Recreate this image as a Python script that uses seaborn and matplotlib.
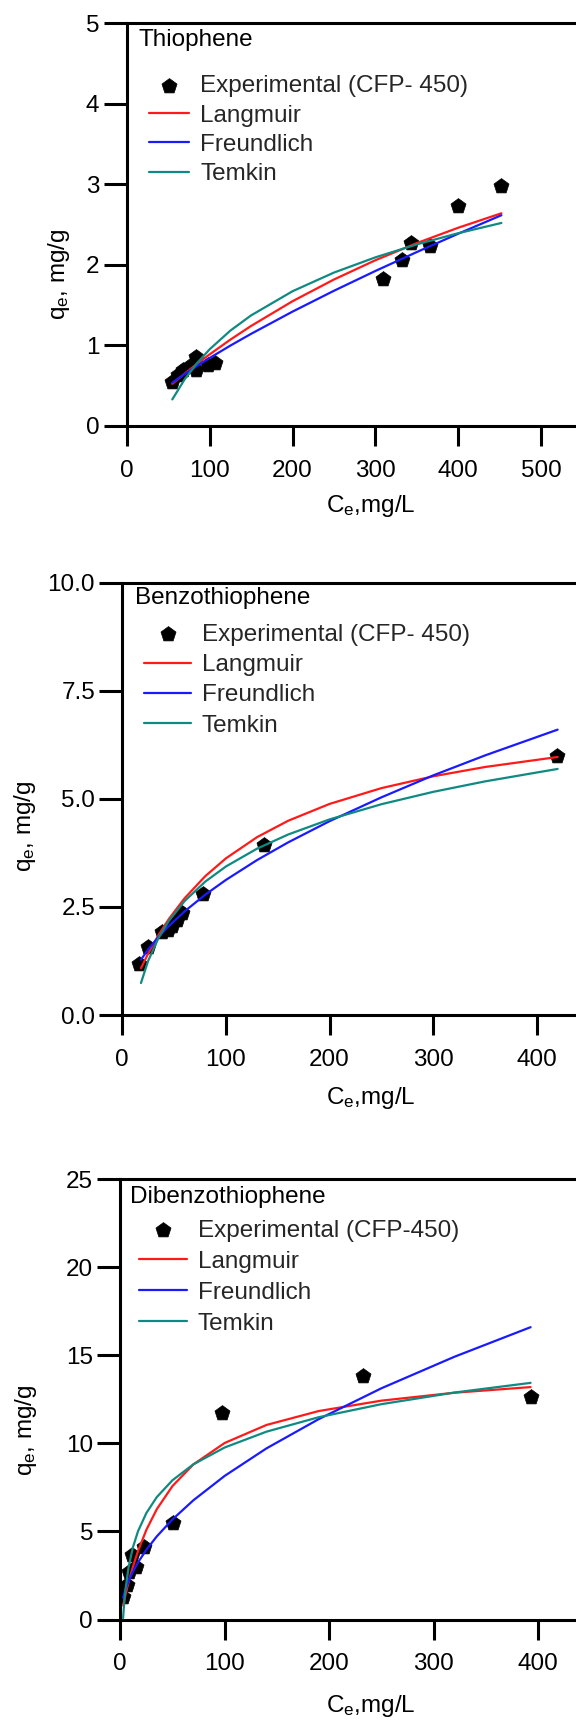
import matplotlib
matplotlib.use("Agg")
import matplotlib.pyplot as plt
from matplotlib.ticker import FormatStrFormatter
import seaborn as sns

# ---------------- Thiophene ----------------
th_ce = [55, 62, 68, 76, 84, 83, 98, 106, 309, 332, 343, 366, 400, 451]
th_qe = [0.55, 0.63, 0.70, 0.74, 0.70, 0.86, 0.76, 0.78, 1.83, 2.06, 2.27, 2.24, 2.73, 2.98]
th_fit_ce = [55, 70, 85, 100, 125, 150, 200, 250, 300, 350, 400, 452]
th_langmuir = [0.524, 0.651, 0.773, 0.889, 1.072, 1.242, 1.549, 1.819, 2.058, 2.271, 2.462, 2.641]
th_freundlich = [0.539, 0.646, 0.747, 0.844, 0.998, 1.144, 1.420, 1.679, 1.925, 2.160, 2.388, 2.617]
th_temkin = [0.330, 0.581, 0.782, 0.952, 1.184, 1.373, 1.673, 1.905, 2.094, 2.255, 2.394, 2.521]

# ---------------- Benzothiophene ----------------
bt_ce = [16, 25, 38, 44, 48, 53, 58, 78, 137, 419]
bt_qe = [1.18, 1.58, 1.92, 1.97, 2.05, 2.20, 2.35, 2.80, 3.93, 6.00]
bt_fit_ce = [18, 25, 35, 45, 60, 80, 100, 130, 160, 200, 250, 300, 350, 420]
bt_langmuir = [1.082, 1.423, 1.852, 2.224, 2.697, 3.211, 3.624, 4.114, 4.493, 4.883, 5.248, 5.522, 5.737, 5.968]
bt_freundlich = [1.279, 1.518, 1.809, 2.062, 2.395, 2.783, 3.125, 3.584, 3.993, 4.484, 5.035, 5.543, 6.005, 6.601]
bt_temkin = [0.740, 1.256, 1.785, 2.180, 2.633, 3.085, 3.436, 3.848, 4.175, 4.525, 4.876, 5.162, 5.404, 5.692]

# ---------------- Dibenzothiophene ----------------
dbt_ce = [3, 6, 8, 11, 15, 23, 50, 97, 232, 393]
dbt_qe = [1.30, 1.95, 2.70, 3.66, 3.00, 4.10, 5.50, 11.70, 13.80, 12.60]
dbt_fit_ce = [2.7, 3, 4, 5, 8, 12, 17, 25, 35, 50, 70, 100, 140, 190, 250, 320, 393]
dbt_langmuir = [0.794, 0.877, 1.146, 1.405, 2.127, 2.977, 3.891, 5.092, 6.266, 7.575, 8.802,
                10.02, 11.04, 11.83, 12.42, 12.87, 13.19]
dbt_freundlich = [1.245, 1.315, 1.528, 1.716, 2.190, 2.705, 3.241, 3.962, 4.720, 5.680, 6.766,
                  8.151, 9.711, 11.37, 13.12, 14.91, 16.59]
dbt_temkin = [0.08, 0.365, 1.136, 1.734, 2.994, 4.081, 5.014, 6.047, 6.950, 7.905, 8.807,
              9.763, 10.66, 11.48, 12.22, 12.88, 13.43]

panel_titles = ["Thiophene", "Benzothiophene", "Dibenzothiophene"]
exp_labels = ["Experimental (CFP- 450)", "Experimental (CFP- 450)", "Experimental (CFP-450)"]
model_names = ["Langmuir", "Freundlich", "Temkin"]
model_colors = ["#ff1a1a", "#1a1aff", "#0f8a82"]

sns.set_theme(style="ticks")
plt.rcParams["font.family"] = ["Liberation Sans", "DejaVu Sans"]
plt.rcParams["mathtext.default"] = "regular"

W, H = 576, 1720
fig = plt.figure(figsize=(W / 100, H / 100), dpi=100)
fig.patch.set_facecolor("white")

# axes frames in pixel units: left, top, bottom (right edge is the figure edge)
frames = [(126.7, 23.3, 426.0), (122.3, 582.7, 1015.0), (120.3, 1179.0, 1619.5)]
xscale = [0.829, 1.0365, 1.044]          # pixels per data unit along x
ylims = [5, 10, 25]
yticks = [[0, 1, 2, 3, 4, 5], [0, 2.5, 5.0, 7.5, 10.0], [0, 5, 10, 15, 20, 25]]
xticks = [[0, 100, 200, 300, 400, 500], [0, 100, 200, 300, 400], [0, 100, 200, 300, 400]]
title_pos = [(0.027, 0.9424), (0.029, 0.9507), (0.022, 0.9446)]
legend_pos = [(0.049, 0.871), (0.048, 0.905), (0.041, 0.908)]
legend_handlelen = [1.66, 1.93, 1.96]
legend_spacing = [0.30, 0.34, 0.37]
ylabel_pos = [(-0.151, 0.377), (-0.2145, 0.437), (-0.207, 0.430)]
xlabel_pos = [(0.5437, -0.166), (0.548, -0.162), (0.550, -0.166)]

datasets = [
    (th_ce, th_qe, th_fit_ce, [th_langmuir, th_freundlich, th_temkin]),
    (bt_ce, bt_qe, bt_fit_ce, [bt_langmuir, bt_freundlich, bt_temkin]),
    (dbt_ce, dbt_qe, dbt_fit_ce, [dbt_langmuir, dbt_freundlich, dbt_temkin]),
]

FS = 17.5
for i, (ce, qe, fit_ce, fits) in enumerate(datasets):
    left, top, bottom = frames[i]
    ax = fig.add_axes([left / W, 1 - bottom / H, (W - left) / W, (bottom - top) / H])
    ax.set_facecolor("white")

    sns.scatterplot(x=ce, y=qe, ax=ax, marker="p", s=130, color="black",
                    edgecolor="black", linewidth=0.5, label=exp_labels[i], zorder=2)
    for name, col, vals in zip(model_names, model_colors, fits):
        sns.lineplot(x=fit_ce, y=vals, ax=ax, color=col, linewidth=1.6,
                     label=name, sort=False, estimator=None, zorder=3)

    ax.set_xlim(0, (W - left) / xscale[i])
    ax.set_ylim(0, ylims[i])
    ax.set_xticks(xticks[i])
    ax.set_yticks(yticks[i])
    if i == 1:
        ax.yaxis.set_major_formatter(FormatStrFormatter("%.1f"))

    for side in ("left", "top", "bottom"):
        ax.spines[side].set_linewidth(2.2)
        ax.spines[side].set_color("black")
    ax.spines["right"].set_visible(False)

    ax.tick_params(axis="x", direction="out", length=14.4, width=2.2, pad=10,
                   labelsize=FS, colors="black")
    ax.tick_params(axis="y", direction="out", length=16.6, width=2.2, pad=3,
                   labelsize=FS, colors="black")

    ax.set_xlabel(r"C$_e$,mg/L", fontsize=FS, color="black", va="top")
    ax.xaxis.set_label_coords(*xlabel_pos[i])
    ax.set_ylabel(r"q$_e$, mg/g", fontsize=FS, color="black")
    ax.yaxis.label.set_va("center")
    ax.yaxis.set_label_coords(*ylabel_pos[i])

    ax.text(title_pos[i][0], title_pos[i][1], panel_titles[i], transform=ax.transAxes,
            fontsize=FS, ha="left", va="baseline", color="black")

    handles, labels = ax.get_legend_handles_labels()
    ax.legend(handles, labels, loc="upper left", bbox_to_anchor=legend_pos[i],
              frameon=False, fontsize=FS, borderpad=0, borderaxespad=0,
              handlelength=legend_handlelen[i], handletextpad=0.45,
              labelspacing=legend_spacing[i], markerscale=1.0)

fig.savefig("out.png", dpi=100, facecolor="white")
